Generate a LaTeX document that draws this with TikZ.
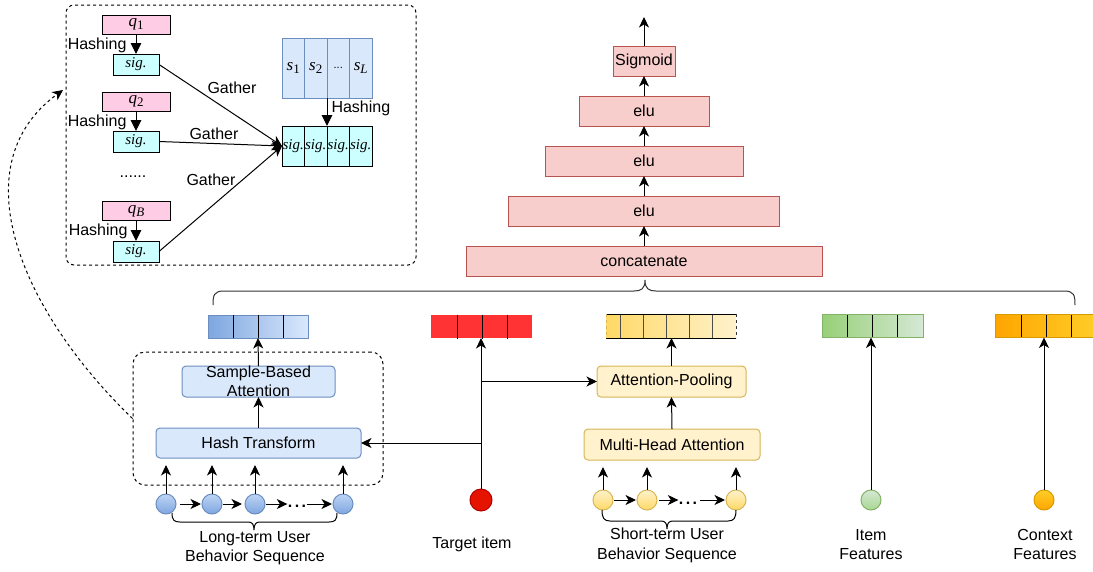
\documentclass[tikz,border=0pt]{standalone}
\usepackage{fontspec}
\setmainfont{Liberation Sans}
\newfontfamily\tnr{Liberation Serif}
\usetikzlibrary{arrows.meta,shapes.geometric}
\definecolor{pinkq}{HTML}{FFCCE6}
\definecolor{cyansig}{HTML}{CCFFFF}
\definecolor{bluef}{HTML}{DAE8FC}
\definecolor{blues}{HTML}{6C8EBF}
\definecolor{blued}{HTML}{7EA6E0}
\definecolor{redf}{HTML}{F8CECC}
\definecolor{reds}{HTML}{B85450}
\definecolor{yelf}{HTML}{FFF2CC}
\definecolor{yels}{HTML}{D6B656}
\definecolor{yeld}{HTML}{FFD966}
\definecolor{grnf}{HTML}{D5E8D4}
\definecolor{grns}{HTML}{82B366}
\definecolor{grnd}{HTML}{97D077}
\definecolor{orgl}{HTML}{FFCD28}
\definecolor{orgd}{HTML}{FFA500}
\definecolor{orgs}{HTML}{D79B00}
\definecolor{tred}{HTML}{E51400}
\definecolor{treds}{HTML}{B20000}
\definecolor{barred}{HTML}{FF3333}
\newcommand{\mysub}[2]{{\tnr\itshape #1}\raisebox{-3pt}{\fontsize{13}{13}\selectfont\tnr #2}}
\begin{document}
\begin{tikzpicture}[x=1pt,y=-1pt,line width=1pt,
  >={Stealth[length=10.5pt,width=10pt,inset=3pt]},
  lbl/.style={font=\fontsize{16}{19}\selectfont,inner sep=0pt,align=center},
  dsh/.style={dash pattern=on 3pt off 3pt},
  qbox/.style={draw,fill=pinkq,minimum width=68pt,minimum height=19pt,inner sep=0pt,outer sep=0pt,font=\fontsize{17}{17}\selectfont},
  sigbox/.style={draw,fill=cyansig,minimum width=46pt,minimum height=21pt,inner sep=0pt,outer sep=0pt,font=\fontsize{15}{15}\selectfont\tnr\itshape},
  scell/.style={draw=blues,fill=bluef,minimum width=22.5pt,minimum height=60pt,inner sep=0pt,outer sep=0pt,font=\fontsize{17}{17}\selectfont},
  gcell/.style={draw,fill=cyansig,minimum width=22.5pt,minimum height=40pt,inner sep=0pt,outer sep=0pt,font=\fontsize{15}{15}\selectfont\tnr\itshape},
  hasharr/.style={-{Triangle[length=11pt,width=10.5pt]}},
  bluebox/.style={draw=blues,fill=bluef,rounded corners=4pt,inner sep=0pt,outer sep=0pt,font=\fontsize{16}{19}\selectfont,align=center},
  yelbox/.style={draw=yels,fill=yelf,rounded corners=4pt,inner sep=0pt,outer sep=0pt,font=\fontsize{16}{19}\selectfont},
  redbox/.style={draw=reds,fill=redf,minimum height=30pt,inner sep=0pt,outer sep=0pt,font=\fontsize{16}{19}\selectfont},
  dot/.style={circle,minimum size=20pt,inner sep=0pt,outer sep=0pt},
  bar/.style={minimum height=23pt,inner sep=0pt,outer sep=0pt}
]
\useasboundingbox (0,0) rectangle (1093,571);

% ---------------- top-left dashed box ----------------
\node[draw,dsh,rounded corners=8pt,minimum width=350pt,minimum height=260pt,inner sep=0pt] (topbox) at (241,135) {};
\node[qbox] (q1) at (136,24.5) {\mysub{q}{1}};
\node[sigbox] (s1) at (136,64.5) {sig.};
\node[qbox] (q2) at (136,101.5) {\mysub{q}{2}};
\node[sigbox] (s2) at (136,141.5) {sig.};
\node[qbox] (qB) at (136,211) {\mysub{q}{\itshape B}};
\node[sigbox] (sB) at (136,251.5) {sig.};
\draw[hasharr] (q1.south) -- (s1.north);
\draw[hasharr] (q2.south) -- (s2.north);
\draw[hasharr] (qB.south) -- (sB.north);
\node[lbl,anchor=east] (h1) at (127,45) {Hashing};
\node[lbl,anchor=east] (h2) at (127,122) {Hashing};
\node[lbl,anchor=east] (h3) at (128,231) {Hashing};
\node[lbl] (vdots) at (133,177) {......};

\node[scell] (sa1) at (293.25,68) {\mysub{s}{1}};
\node[scell] (sa2) at (315.75,68) {\mysub{s}{2}};
\node[scell] (sa3) at (338.25,68) {\fontsize{11}{11}\selectfont ...};
\node[scell] (sa4) at (360.75,68) {\mysub{s}{\itshape L}};
\node[gcell] (g1) at (293.25,146) {sig.};
\node[gcell] (g2) at (315.75,146) {sig.};
\node[gcell] (g3) at (338.25,146) {sig.};
\node[gcell] (g4) at (360.75,146) {sig.};
\draw[hasharr] (sa2.south east) -- (g2.north east);
\node[lbl,anchor=west] (h4) at (331,108) {Hashing};

\draw[->] (s1.east) -- (g1.west);
\draw[->] (s2.east) -- (g1.west);
\draw[->] (sB.east) -- (g1.west);
\node[lbl] (ga1) at (232,88) {Gather};
\node[lbl] (ga2) at (214,134) {Gather};
\node[lbl] (ga3) at (211,180) {Gather};

% ---------------- long-term branch ----------------
\node[draw,dsh,rounded corners=12pt,minimum width=250pt,minimum height=133pt,inner sep=0pt] (lowbox) at (258,418.5) {};
\coordinate (dtip) at (63,90);
\draw[dsh,->] (lowbox.west) .. controls (20,310) and (-40,165) .. (dtip);

\node[bluebox,minimum width=153pt,minimum height=31pt] (sba) at (258.5,381.5) {Sample-Based\\Attention};
\node[bluebox,minimum width=205pt,minimum height=30pt] (ht) at (258.5,443) {Hash Transform};
\node[bar,minimum width=100pt,left color=blued,right color=bluef,draw=blues] (bb) at (258,326.5) {};
\foreach \x in {233,258,283} \draw (\x,315) -- (\x,338);
\draw[->] (ht.north) -- (sba.south);
\draw[->] (sba.north) -- (bb.south);

\foreach \n/\x in {c1/166,c2/212,c3/255,c4/343}
  \node[dot,draw=blues,top color=bluef!70!blued,bottom color=blued] (\n) at (\x,504) {};
\foreach \n in {c1,c2,c3,c4}
  \draw[->,shorten >=7pt] (\n.north) -- (\n.north |- ht.south);
\node[lbl,font=\fontsize{16}{16}\selectfont\bfseries] (ld) at (297,506) {.\hspace{2.5pt}.\hspace{2.5pt}.};
\draw[->,shorten <=4pt,shorten >=1pt] (c1.east) -- (c2.west);
\draw[->,shorten <=1pt,shorten >=3pt] (c2.east) -- (c3.west);
\draw[->,shorten <=1pt] (c3.east) -- (ld.west |- c3.east);
\draw[->,shorten >=1pt] (ld.east |- c4.west) -- (c4.west);
\draw (172,513) .. controls (172,520) and (174,522) .. (180,522) -- (248,522) .. controls (252,522) and (254,524) .. (254,530) .. controls (254,524) and (256,522) .. (260,522) -- (329,522) .. controls (335,522) and (337,520) .. (337,513);
\node[lbl] (ltlab) at (255,548.5) {Long-term User\\Behavior Sequence};

% ---------------- target item ----------------
\node[dot,minimum size=22pt,draw=treds,fill=tred] (tc) at (481,500) {};
\node[bar,minimum width=101pt,fill=barred] (rb) at (481.5,326.5) {};
\foreach \x in {457,482,507} \draw (\x,314.5) -- (\x,338.5);
\draw[->] (tc.north) -- (tc.north |- rb.south);
\node[lbl] (tlab) at (472,544) {Target item};

% ---------------- short-term branch ----------------
\node[bar,minimum width=130pt,minimum height=24pt,left color=yeld,right color=yelf] (yb) at (671,326) {};
\foreach \x in {620,643,666,689,712} \draw[black!70] (\x,314) -- (\x,338);
\draw (yb.north west) -- (yb.north east);
\draw (yb.south west) -- (yb.south east);
\draw[dsh,yels] (yb.north west) -- (yb.south west);
\draw[dsh,black!80] (yb.north east) -- (yb.south east);
\node[yelbox,minimum width=149pt,minimum height=31pt] (ap) at (671.5,381.5) {Attention-Pooling};
\node[yelbox,minimum width=176pt,minimum height=31pt] (mha) at (672,444.5) {Multi-Head Attention};
\draw[->] (mha.north) -- (ap.south);
\draw[->] (ap.north) -- (ap.north |- yb.south);
\draw[->] (ap.west -| tc.north) -- (ap.west);
\draw[->] (ht.east -| tc.north) -- (ht.east);

\foreach \n/\x in {y1/603,y2/647,y3/736}
  \node[dot,draw=yels,top color=yelf,bottom color=yeld] (\n) at (\x,500) {};
\foreach \n in {y1,y2,y3}
  \draw[->,shorten >=7pt] (\n.north) -- (\n.north |- mha.south);
\node[lbl,font=\fontsize{16}{16}\selectfont\bfseries] (sd) at (688,503) {.\hspace{2.5pt}.\hspace{2.5pt}.};
\draw[->,shorten <=1pt,shorten >=1pt] (y1.east) -- (y2.west);
\draw[->,shorten <=2pt] (y2.east) -- (sd.west |- y2.east);
\draw[->,shorten <=2pt,shorten >=1pt] (sd.east |- y3.west) -- (y3.west);
\draw (602,510) .. controls (602,518) and (604,521) .. (610,521) -- (661,521) .. controls (665,521) and (667,523) .. (667,529) .. controls (667,523) and (669,521) .. (673,521) -- (728,521) .. controls (734,521) and (736,518) .. (736,510);
\node[lbl,font=\fontsize{16}{20}\selectfont] (stlab) at (667,545) {Short-term User\\Behavior Sequence};

% ---------------- item features ----------------
\node[bar,minimum width=101pt,left color=grnd,right color=grnf,draw=grns] (gb) at (872.5,326) {};
\foreach \x in {847,872,897} \draw (\x,315) -- (\x,337);
\node[dot,draw=grns,top color=grnf,bottom color=grnd!70!grnf] (gc) at (871,500) {};
\draw[->] (gc.north) -- (gc.north |- gb.south);
\node[lbl] (glab) at (871,544.5) {Item\\Features};

% ---------------- context features ----------------
\node[bar,minimum width=101pt,left color=orgd,right color=orgl,draw=orgs] (ob) at (1045.5,326) {};
\foreach \x in {1021,1046,1071} \draw (\x,315) -- (\x,337);
\node[dot,draw=orgs,top color=orgl,bottom color=orgd] (oc) at (1044,500) {};
\draw[->] (oc.north) -- (oc.north |- ob.south);
\node[lbl] (olab) at (1045,544.5) {Context\\Features};

% ---------------- MLP tower ----------------
\node[redbox,minimum width=356pt] (cc) at (644,261) {concatenate};
\node[redbox,minimum width=271pt] (e1) at (644,211) {elu};
\node[redbox,minimum width=198pt] (e2) at (644,161) {elu};
\node[redbox,minimum width=130pt] (e3) at (644,111) {elu};
\node[redbox,minimum width=62pt] (sg) at (644,61) {Sigmoid};
\draw[->] (cc.north) -- (e1.south);
\draw[->] (e1.north) -- (e2.south);
\draw[->] (e2.north) -- (e3.south);
\draw[->] (e3.north) -- (sg.south);
\coordinate (out) at (644,17);
\draw[->] (sg.north) -- (out);

% big brace
\draw[black!80] (213,305) .. controls (213,295) and (214,291) .. (224,291) -- (634,291) .. controls (641,291) and (645,289) .. (645,280) .. controls (645,289) and (649,291) .. (656,291) -- (1064,291) .. controls (1074,291) and (1075,295) .. (1075,305);
\end{tikzpicture}
\end{document}
